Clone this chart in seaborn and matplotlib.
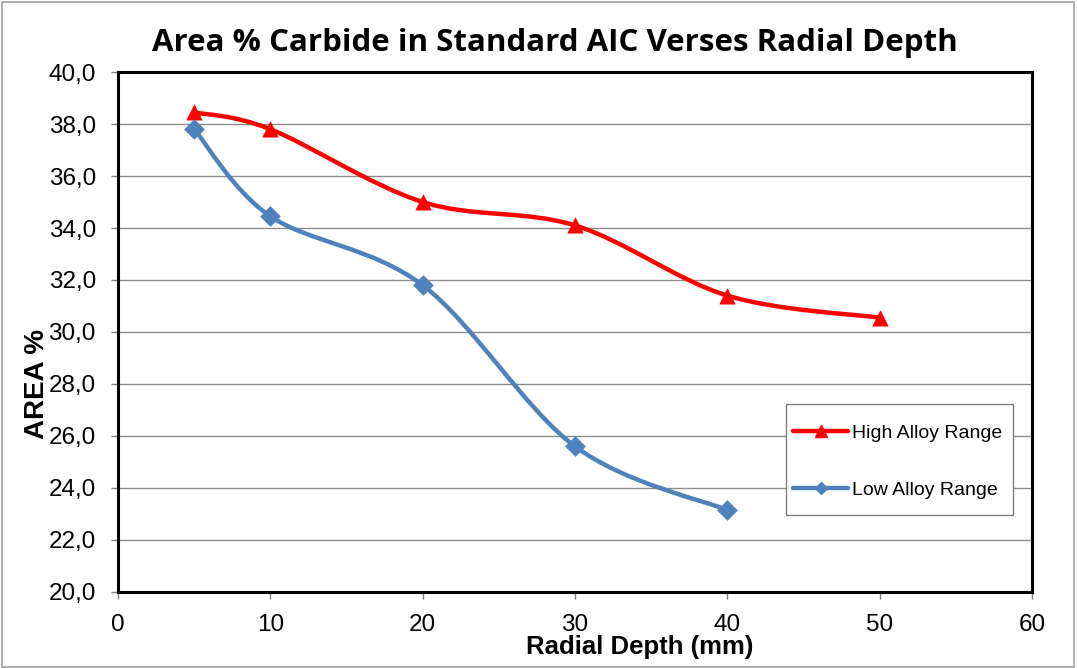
import numpy as np
import pandas as pd
import matplotlib
matplotlib.use("Agg")
import matplotlib.pyplot as plt
import seaborn as sns
from matplotlib.path import Path
from matplotlib.patches import PathPatch, Rectangle
from matplotlib.lines import Line2D

# data
high_depth = [5, 10, 20, 30, 40, 50]
high_area = [38.45, 37.8, 35.0, 34.1, 31.4, 30.55]
low_depth = [5, 10, 20, 30, 40]
low_area = [37.8, 34.45, 31.8, 25.6, 23.15]

series_names = ["High Alloy Range", "Low Alloy Range"]
series_colors = ["#FF0000", "#4F81BD"]
series_markers = ["^", "D"]


def smooth_path(xs, ys):
    # Excel style smoothed line: cubic bezier through the points
    pts = np.column_stack([xs, ys]).astype(float)
    n = len(pts)
    verts = [pts[0]]
    codes = [Path.MOVETO]
    for i in range(n - 1):
        p0 = pts[i - 1] if i > 0 else pts[i]
        p1 = pts[i]
        p2 = pts[i + 1]
        p3 = pts[i + 2] if i + 2 < n else pts[i + 1]
        c1 = p1 + (p2 - p0) / 6.0
        c2 = p2 - (p3 - p1) / 6.0
        verts += [c1, c2, p2]
        codes += [Path.CURVE4] * 3
    return Path(verts, codes)


sns.set_style("white")
plt.rcParams["font.family"] = ["Liberation Sans", "DejaVu Sans"]
plt.rcParams["text.color"] = "black"
plt.rcParams["axes.labelcolor"] = "black"

fig = plt.figure(figsize=(10.77, 6.68), dpi=100)
ax = fig.add_axes([0.1096, 0.1138, 0.8486, 0.7784])

# outer chart border
fig.patches.append(Rectangle((0.002, 0.002), 0.995, 0.995, transform=fig.transFigure,
                             fill=False, edgecolor="#A0A0A0", linewidth=1.2))

frames = [
    pd.DataFrame({"depth": high_depth, "area": high_area}),
    pd.DataFrame({"depth": low_depth, "area": low_area}),
]

for df, color, marker in zip(frames, series_colors, series_markers):
    ax.add_patch(PathPatch(smooth_path(df["depth"], df["area"]), facecolor="none",
                           edgecolor=color, linewidth=3.2, capstyle="round", zorder=3))
    sns.scatterplot(data=df, x="depth", y="area", ax=ax, marker=marker, color=color,
                    s=120 if marker == "^" else 100, edgecolor=color, linewidth=0.5,
                    zorder=4, legend=False)

ax.set_xlim(0, 60)
ax.set_ylim(20, 40)
ax.set_xticks(range(0, 61, 10))
ax.set_yticks(np.arange(20, 40.1, 2))
ax.set_yticklabels([f"{v:.1f}".replace(".", ",") for v in np.arange(20, 40.1, 2)])
ax.tick_params(axis="both", labelsize=17.5, direction="out", length=5, width=1,
               color="#808080", labelcolor="black", left=True, bottom=True)
ax.tick_params(axis="x", pad=11)
ax.tick_params(axis="y", pad=11)
ax.yaxis.grid(True, color="#8C8C8C", linewidth=1)
ax.xaxis.grid(False)
for side in ax.spines.values():
    side.set_color("black")
    side.set_linewidth(2.2)

ax.set_xlabel("Radial Depth (mm)", fontsize=18.5, fontweight="bold")
ax.xaxis.set_label_coords(0.571, -0.083)
ax.set_ylabel("AREA %", fontsize=20, fontweight="bold")
ax.yaxis.set_label_coords(-0.074, 0.40)

fig.suptitle("Area % Carbide in Standard AIC Verses Radial Depth", x=0.515, y=0.958,
             fontsize=22.5, fontweight="bold", family=["Open Sans", "DejaVu Sans"])

# legend box drawn separately so its padding can match the reference
ax.add_patch(Rectangle((0.7309, 0.148), 0.2484, 0.2135, transform=ax.transAxes,
                       facecolor="white", edgecolor="#808080", linewidth=1, zorder=5))
handles = [
    Line2D([], [], color=series_colors[0], linewidth=3.2, marker="^", markersize=8),
    Line2D([], [], color=series_colors[1], linewidth=3.2, marker="D", markersize=6),
]
leg = ax.legend(handles, series_names, loc="upper left", bbox_to_anchor=(0.7385, 0.322),
                fontsize=14, frameon=False, handlelength=2.85, handletextpad=0.2,
                borderpad=0, labelspacing=2.0, borderaxespad=0)
leg.set_zorder(6)

fig.savefig("out.png", dpi=100)
